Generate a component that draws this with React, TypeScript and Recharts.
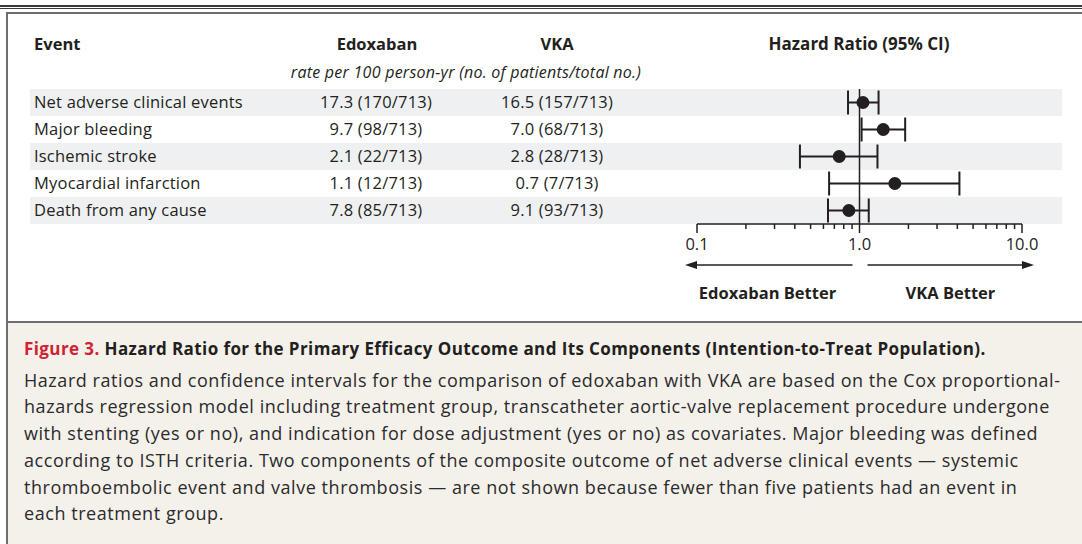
import React from "react";
import {
  ComposedChart,
  Scatter,
  ErrorBar,
  XAxis,
  YAxis,
  ReferenceLine,
  Label,
} from "recharts";

const events = [
  "Net adverse clinical events",
  "Major bleeding",
  "Ischemic stroke",
  "Myocardial infarction",
  "Death from any cause",
];
const edoxRate = [17.3, 9.7, 2.1, 1.1, 7.8];
const edoxN = [170, 98, 22, 12, 85];
const vkaRate = [16.5, 7.0, 2.8, 0.7, 9.1];
const vkaN = [157, 68, 28, 7, 93];
const totalN = 713;
const hr = [1.05, 1.4, 0.75, 1.65, 0.86];
const hrLow = [0.85, 1.03, 0.43, 0.65, 0.64];
const hrHigh = [1.31, 1.91, 1.29, 4.12, 1.14];
const xTicks = [0.1, 0.2, 0.3, 0.4, 0.5, 0.6, 0.7, 0.8, 0.9, 1, 2, 3, 4, 5, 6, 7, 8, 9, 10];
const xLabels: Record<number, string> = { 0.1: "0.1", 1: "1.0", 10: "10.0" };
const rowTicks = [0, 1, 2, 3, 4];

const FONT = "'Open Sans', sans-serif";
const INK = "#231f20";

const rows = events.map((e, i) => ({
  row: i,
  event: e,
  edox: `${edoxRate[i].toFixed(1)} (${edoxN[i]}/${totalN})`,
  vka: `${vkaRate[i].toFixed(1)} (${vkaN[i]}/${totalN})`,
  hr: hr[i],
  err: [hr[i] - hrLow[i], hrHigh[i] - hr[i]],
}));

const W = 1082;
const H = 320;
const MARGIN = { top: 89, right: 60, bottom: 0, left: 0 };
const AXIS_W = 697;
const AXIS_H = 96;

// table rows + stripes, drawn as y-axis ticks in the background chart
const RowTick = ({ x, y, payload }: any) => {
  const r = rows[payload.value];
  if (!r) return null;
  const left = x - 667;
  return (
    <g fontFamily={FONT} fontSize={16.5} letterSpacing={0.2} fill={INK}>
      {r.row % 2 === 0 && (
        <rect x={left} y={y - 13.5} width={1032} height={27} fill="#eff0f2" />
      )}
      <text x={left + 4} y={y} dy="0.35em" textAnchor="start">
        {r.event}
      </text>
      <text x={376} y={y} dy="0.35em" textAnchor="middle">
        {r.edox}
      </text>
      <text x={557} y={y} dy="0.35em" textAnchor="middle">
        {r.vka}
      </text>
    </g>
  );
};

const HrTick = ({ x, y, payload }: any) => {
  const v = payload.value;
  const label = xLabels[v];
  return (
    <g>
      <line x1={x} x2={x} y1={y} y2={y + (label ? 9 : 5)} stroke={INK} strokeWidth={1.5} />
      {label && (
        <text x={x} y={y + 20} dy="0.35em" textAnchor="middle" fontFamily={FONT} fontSize={16.5} fill={INK}>
          {label}
        </text>
      )}
    </g>
  );
};

const BetterLabel = ({ viewBox }: any) => {
  const { x, y, width } = viewBox;
  const mid = x + width / 2;
  const ay = y + 41;
  return (
    <g fontFamily={FONT} fontSize={16.5} fontWeight={700} fill={INK}>
      <line x1={mid - 7} x2={x - 2} y1={ay} y2={ay} stroke={INK} strokeWidth={1.5} />
      <polygon points={`${x - 12},${ay} ${x},${ay - 4} ${x},${ay + 4}`} fill={INK} />
      <line x1={mid + 8} x2={x + width + 2} y1={ay} y2={ay} stroke={INK} strokeWidth={1.5} />
      <polygon points={`${x + width + 12},${ay} ${x + width},${ay - 4} ${x + width},${ay + 4}`} fill={INK} />
      <text x={mid - 92} y={y + 69} dy="0.35em" textAnchor="middle">
        Edoxaban Better
      </text>
      <text x={mid + 91} y={y + 69} dy="0.35em" textAnchor="middle">
        VKA Better
      </text>
    </g>
  );
};

const Dot = (props: any) => <circle cx={props.cx} cy={props.cy} r={6.5} fill={INK} />;
const NoDot = () => <g />;

const abs = (top: number, left: number, extra: React.CSSProperties = {}): React.CSSProperties => ({
  position: "absolute",
  top,
  left,
  ...extra,
});

const captionLines = [
  "Hazard ratios and confidence intervals for the comparison of edoxaban with VKA are based on the Cox proportional-",
  "hazards regression model including treatment group, transcatheter aortic-valve replacement procedure undergone",
  "with stenting (yes or no), and indication for dose adjustment (yes or no) as covariates. Major bleeding was defined",
  "according to ISTH criteria. Two components of the composite outcome of net adverse clinical events \u2014 systemic",
  "thromboembolic event and valve thrombosis \u2014 are not shown because fewer than five patients had an event in",
  "each treatment group.",
];

const header: React.CSSProperties = {
  fontSize: 16.5,
  fontWeight: 700,
  lineHeight: "24px",
  whiteSpace: "nowrap",
};

export default function App() {
  return (
    <div
      style={{
        position: "absolute",
        top: 0,
        left: 0,
        width: W,
        height: 544,
        background: "#fff",
        overflow: "hidden",
        fontFamily: FONT,
        color: INK,
      }}
    >
      {/* top rules and frame */}
      <div style={abs(5, 0, { width: W, height: 1.5, background: "#3a3a3a" })} />
      <div style={abs(7.5, 0, { width: W, height: 1, background: "#3a3a3a" })} />
      <div style={abs(12, 6, { width: 1076, height: 2, background: "#6d6e71" })} />
      <div style={abs(12, 6, { width: 2, height: 532, background: "#6d6e71" })} />
      <div style={abs(323, 8, { width: 1074, height: 221, background: "#f4f1eb" })} />
      <div style={abs(321, 6, { width: 1076, height: 2, background: "#6d6e71" })} />

      {/* column headers */}
      <div style={abs(32, 34, header)}>Event</div>
      <div style={abs(32, 377, { ...header, transform: "translateX(-50%)" })}>Edoxaban</div>
      <div style={abs(32, 557, { ...header, transform: "translateX(-50%)" })}>VKA</div>
      <div style={abs(32, 859, { ...header, fontSize: 17, transform: "translateX(-50%)" })}>
        Hazard Ratio (95% CI)
      </div>
      <div
        style={abs(60, 466, {
          fontSize: 16,
          letterSpacing: 0.25,
          fontStyle: "italic",
          lineHeight: "24px",
          transform: "translateX(-50%)",
          whiteSpace: "nowrap",
        })}
      >
        rate per 100 person-yr (no. of patients/total no.)
      </div>

      {/* background: stripes and table text */}
      <div style={abs(0, 0)}>
        <ComposedChart width={W} height={H} data={rows} margin={MARGIN}>
          <YAxis
            type="number"
            dataKey="row"
            domain={[-0.5, 4.5]}
            ticks={rowTicks}
            reversed
            width={AXIS_W}
            axisLine={false}
            tickLine={false}
            tickSize={0}
            tickMargin={0}
            tick={<RowTick />}
            interval={0}
          />
          <XAxis
            type="number"
            dataKey="hr"
            scale="log"
            domain={[0.1, 10]}
            allowDataOverflow
            height={AXIS_H}
            axisLine={false}
            tickLine={false}
            tick={false}
          />
          <Scatter dataKey="hr" shape={<NoDot />} isAnimationActive={false} />
        </ComposedChart>
      </div>

      {/* foreground: forest plot */}
      <div style={abs(0, 0)}>
        <ComposedChart width={W} height={H} data={rows} margin={MARGIN}>
          <YAxis
            type="number"
            dataKey="row"
            domain={[-0.5, 4.5]}
            ticks={rowTicks}
            reversed
            width={AXIS_W}
            axisLine={false}
            tickLine={false}
            tick={false}
          />
          <XAxis
            type="number"
            dataKey="hr"
            scale="log"
            domain={[0.1, 10]}
            allowDataOverflow
            ticks={xTicks}
            interval={0}
            height={AXIS_H}
            axisLine={{ stroke: INK, strokeWidth: 1.5 }}
            tickLine={false}
            tickSize={0}
            tickMargin={0}
            tick={<HrTick />}
          >
            <Label content={<BetterLabel />} />
          </XAxis>
          <ReferenceLine x={1} stroke={INK} strokeWidth={1.5} />
          <Scatter dataKey="hr" shape={<Dot />} isAnimationActive={false}>
            <ErrorBar dataKey="err" direction="x" width={12} stroke={INK} strokeWidth={2} />
          </Scatter>
        </ComposedChart>
      </div>

      {/* caption */}
      <div
        style={abs(336, 24, {
          fontSize: 17,
          letterSpacing: 0.4,
          fontWeight: 700,
          lineHeight: "26px",
          whiteSpace: "nowrap",
        })}
      >
        <span style={{ color: "#cf2233" }}>Figure 3.</span> Hazard Ratio for the Primary Efficacy Outcome and Its
        Components (Intention-to-Treat Population).
      </div>
      <div
        style={abs(366.5, 24, {
          fontSize: 18,
          letterSpacing: 0.55,
          lineHeight: "26.8px",
          color: "#2b2b2b",
        })}
      >
        {captionLines.map((l, i) => (
          <div key={i} style={{ whiteSpace: "nowrap" }}>
            {l}
          </div>
        ))}
      </div>
    </div>
  );
}
